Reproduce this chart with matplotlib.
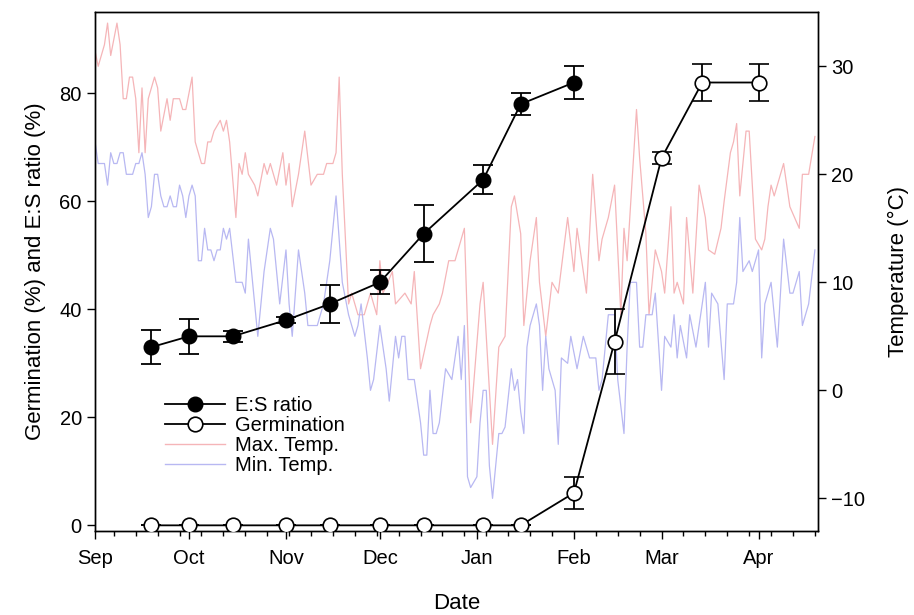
import datetime as dt
import matplotlib
matplotlib.use("Agg")
import matplotlib.pyplot as plt
import matplotlib.dates as mdates
from matplotlib.lines import Line2D

plt.rcParams['font.family'] = ['Liberation Sans', 'DejaVu Sans']

start = dt.date(2016, 9, 1)

# sampling dates (E:S ratio and germination)
es_dates = ["2016-09-19", "2016-10-01", "2016-10-15", "2016-11-01", "2016-11-15",
            "2016-12-01", "2016-12-15", "2017-01-03", "2017-01-15", "2017-02-01"]
es_ratio = [33, 35, 35, 38, 41, 45, 54, 64, 78, 82]
es_err = [3.1, 3.3, 1.0, 0.6, 3.5, 2.2, 5.3, 2.7, 2.1, 3.0]

germ_dates = es_dates + ["2017-02-14", "2017-03-01", "2017-03-14", "2017-04-01"]
germ = [0, 0, 0, 0, 0, 0, 0, 0, 0, 6, 34, 68, 82, 82]
germ_err = [0, 0, 0, 0, 0, 0, 0, 0, 0, 3.0, 6.0, 1.1, 3.5, 3.5]

# daily temperature readings (days after 1 Sep)
tmax_day = [0, 1, 3, 4, 5, 7, 8, 9, 10, 11, 12, 13, 14, 15, 16, 17, 19, 20, 21, 23,
            24, 25, 27, 28, 29, 31, 32, 34, 35, 36, 37, 38, 40, 41, 42, 43, 45, 46, 47, 48,
            49, 51, 52, 54, 55, 56, 58, 60, 61, 62, 63, 65, 67, 69, 71, 73, 74, 76, 77, 78,
            79, 81, 82, 84, 86, 88, 90, 91, 92, 95, 96, 99, 101, 102, 104, 107, 108, 110, 111, 113,
            115, 116, 118, 120, 123, 124, 127, 129, 131, 133, 134, 136, 137, 139, 141, 142, 144, 146, 148, 151,
            153, 154, 157, 159, 161, 162, 164, 166, 167, 168, 169, 170, 173, 174, 176, 177, 179, 181, 182, 184,
            185, 186, 188, 189, 191, 193, 195, 196, 198, 200, 201, 203, 204, 205, 206, 208, 209, 210, 211, 213,
            214, 215, 216, 217, 219, 220, 222, 225, 226, 228, 230]
tmax = [31.4, 30, 32, 34, 31, 34, 32, 27, 27, 29, 29, 27, 22, 28, 22, 27, 29, 28, 24, 27,
        25, 27, 27, 26, 26, 29, 23, 21, 21, 23, 23, 24, 25, 24, 25, 23, 16, 21, 20, 22,
        20, 19, 18, 21, 20, 21, 19, 22, 19, 21, 17, 20, 24, 19, 20, 20, 21, 21, 22, 29,
        20, 8, 9, 7, 7, 9, 7, 12, 9, 11, 8, 9, 8, 11, 2, 6, 7, 8, 9, 12,
        12, 13, 15, -3, 8, 10, -5, 4, 5, 17, 18, 14.5, 6, 12, 16, 10, 5, 10, 9, 16,
        11, 15, 9, 20, 12, 14, 16, 19, 13, 7, 15, 12, 26, 21.5, 14.5, 7, 13, 11, 9, 17,
        9, 10, 8, 16, 9, 19, 16, 13, 12.6, 15, 17.5, 22, 23, 24.7, 18, 24, 24, 19, 14, 13,
        14, 17, 19, 18, 20, 21, 17, 15, 20, 20, 23.5]

tmin_day = [0, 1, 3, 4, 5, 6, 7, 8, 9, 10, 12, 13, 14, 15, 16, 17, 18, 19, 20, 21,
            22, 23, 24, 25, 26, 27, 28, 29, 30, 31, 32, 33, 34, 35, 36, 37, 38, 39, 40, 41,
            42, 43, 45, 47, 48, 49, 50, 52, 54, 56, 57, 59, 61, 62, 63, 65, 67, 68, 71, 73,
            75, 77, 79, 81, 83, 84, 85, 87, 88, 89, 91, 93, 94, 96, 97, 98, 99, 100, 102, 104,
            105, 106, 107, 108, 109, 110, 112, 114, 116, 117, 118, 119, 120, 122, 123, 124, 125, 126, 127, 128,
            129, 130, 131, 133, 134, 135, 136, 137, 138, 139, 141, 142, 143, 144, 145, 147, 148, 149, 151, 152,
            154, 156, 158, 160, 161, 162, 163, 164, 166, 167, 169, 170, 171, 173, 174, 175, 176, 178, 179, 181,
            182, 184, 185, 186, 187, 189, 190, 192, 193, 195, 196, 197, 199, 201, 202, 204, 205, 206, 207, 209,
            210, 212, 213, 214, 216, 218, 220, 222, 223, 225, 226, 228, 230]
tmin = [23, 21, 21, 19, 22, 21, 21, 22, 22, 20, 20, 21, 21, 22, 20, 16, 17, 20, 20, 18,
        17, 17, 18, 17, 17, 19, 18, 16, 18, 19, 18, 12, 12, 15, 13, 13, 12, 13, 13, 15,
        14, 15, 10, 10, 9, 14, 11, 5, 11, 15, 14, 8, 13, 8, 5, 13, 9, 6, 6, 8,
        12, 18, 10, 7, 5, 6, 8, 3, 0, 1, 6, 2, -1, 5, 3, 5, 5, 1, 1, -3,
        -6, -6, 0, -4, -4, -3, 2, 1, 5, 1, 6, -8, -9, -8, -3, 0, 0, -7, -10, -7,
        -4, -4, -3.4, 2, 0, 1, -2, -4, 4, 6, 8, 6, 0, 5, 2, 0, -5, 3, 2.5, 5,
        2, 5, 3, 3, 0, 1, 4, 7, 7, 1, -4, 4, 10, 10, 4, 4, 7, 7, 9, 0,
        5, 4, 7, 3, 6, 3, 7, 4, 6, 10, 4, 9, 8, 1, 8, 8, 10, 16, 11, 12,
        11, 13, 3, 8, 10, 4, 14, 9, 9, 11, 6, 8, 13]

es_x = [dt.date.fromisoformat(d) for d in es_dates]
germ_x = [dt.date.fromisoformat(d) for d in germ_dates]
tmax_x = [start + dt.timedelta(days=d) for d in tmax_day]
tmin_x = [start + dt.timedelta(days=d) for d in tmin_day]

fig = plt.figure(figsize=(9.14, 6.15), dpi=100)
ax = fig.add_axes([0.104, 0.137, 0.791, 0.843])
ax2 = ax.twinx()

red = '#f5b5b8'
blue = '#b8b8f2'
ax2.plot(tmax_x, tmax, color=red, lw=0.9)
ax2.plot(tmin_x, tmin, color=blue, lw=0.9)

ax.errorbar(germ_x, germ, yerr=germ_err, color='black', lw=1.3, marker='o', ms=10.5,
            mfc='white', mec='black', mew=1.2, capsize=7, capthick=1.3, elinewidth=1.3, zorder=3)
ax.errorbar(es_x, es_ratio, yerr=es_err, color='black', lw=1.3, marker='o', ms=10.5,
            mfc='black', mec='black', capsize=7, capthick=1.3, elinewidth=1.3, zorder=4)

ax.set_zorder(ax2.get_zorder() + 1)
ax.patch.set_visible(False)

ax.set_xlim(dt.date(2016, 9, 1), dt.date(2017, 4, 20))
ax.set_ylim(-1, 95)
ax2.set_ylim(-13, 35)
ax.set_yticks([0, 20, 40, 60, 80])
ax2.set_yticks([-10, 0, 10, 20, 30])

ax.xaxis.set_major_locator(mdates.MonthLocator())
ax.xaxis.set_major_formatter(mdates.DateFormatter('%b'))
ax.xaxis.set_minor_locator(mdates.WeekdayLocator(byweekday=mdates.WE))

for a in (ax, ax2):
    a.tick_params(which='major', direction='out', length=6, width=1, labelsize=14.5)
    a.tick_params(which='minor', direction='out', length=3.5, width=1)
    for s in a.spines.values():
        s.set_linewidth(1.0)
ax.tick_params(axis='x', pad=7)

ax.set_xlabel('Date', fontsize=16, labelpad=18)
ax.set_ylabel('Germination (%) and E:S ratio (%)', fontsize=16, labelpad=10)
ax2.set_ylabel('Temperature (°C)', fontsize=16, labelpad=16)

handles = [
    Line2D([], [], color='black', lw=1.3, marker='o', ms=10.5, mfc='black'),
    Line2D([], [], color='black', lw=1.3, marker='o', ms=10.5, mfc='white', mew=1.2),
    Line2D([], [], color=red, lw=1.0),
    Line2D([], [], color=blue, lw=1.0),
]
labels = ['E:S ratio', 'Germination', 'Max. Temp.', 'Min. Temp.']
ax.legend(handles, labels, loc='upper left', bbox_to_anchor=(0.085, 0.275), frameon=False,
          fontsize=14.5, handlelength=3.0, handletextpad=0.5, labelspacing=0.05, borderaxespad=0)

fig.savefig('out.png', dpi=100)
